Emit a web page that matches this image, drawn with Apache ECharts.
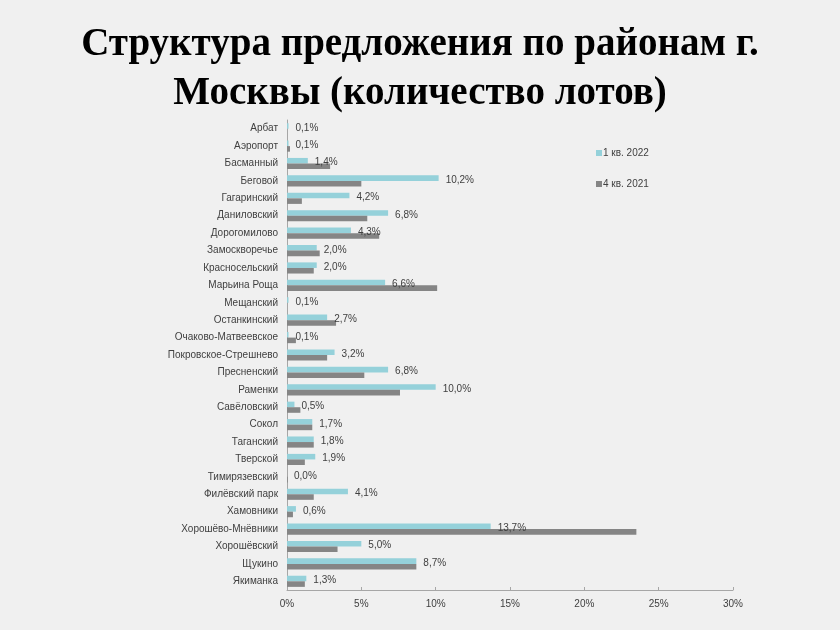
<!DOCTYPE html>
<html>
<head>
<meta charset="utf-8">
<script src="https://cdn.jsdelivr.net/npm/echarts@6/dist/echarts.min.js"></script>
<style>
  html, body { margin: 0; padding: 0; background: #f0f0f0; }
  #chart { width: 840px; height: 630px; }
</style>
</head>
<body>
<div id="chart"></div>
<script>
// районы, сверху вниз
const districts = [
  'Арбат', 'Аэропорт', 'Басманный', 'Беговой', 'Гагаринский', 'Даниловский',
  'Дорогомилово', 'Замоскворечье', 'Красносельский', 'Марьина Роща', 'Мещанский',
  'Останкинский', 'Очаково-Матвеевское', 'Покровское-Стрешнево', 'Пресненский',
  'Раменки', 'Савёловский', 'Сокол', 'Таганский', 'Тверской', 'Тимирязевский',
  'Филёвский парк', 'Хамовники', 'Хорошёво-Мнёвники', 'Хорошёвский', 'Щукино', 'Якиманка'
]

// доля лотов, %
const q1_2022 = [
  0.1, 0.1, 1.4, 10.2, 4.2, 6.8, 4.3, 2.0, 2.0, 6.6, 0.1, 2.7, 0.1, 3.2,
  6.8, 10.0, 0.5, 1.7, 1.8, 1.9, 0.0, 4.1, 0.6, 13.7, 5.0, 8.7, 1.3
]
const q4_2021 = [
  0.0, 0.2, 2.9, 5.0, 1.0, 5.4, 6.2, 2.2, 1.8, 10.1, 0.0, 3.3, 0.6, 2.7,
  5.2, 7.6, 0.9, 1.7, 1.8, 1.2, 0.05, 1.8, 0.4, 23.5, 3.4, 8.7, 1.2
]

const seriesNames = ['1 кв. 2022', '4 кв. 2021']
const xTicks = [0, 5, 10, 15, 20, 25, 30]

const chart = echarts.init(document.getElementById('chart'))

const fmtPct = (v) => v.toFixed(1).replace('.', ',') + '%'

chart.setOption({
  backgroundColor: '#f0f0f0',
  color: ['#95d1da', '#858585'],
  title: {
    text: 'Структура предложения по районам г.\nМосквы (количество лотов)',
    left: 'center',
    top: 15,
    textStyle: {
      fontFamily: 'Liberation Serif',
      fontWeight: 'bold',
      fontSize: 39,
      lineHeight: 49,
      color: '#000',
    },
  },
  legend: {
    orient: 'vertical',
    left: 591,
    top: 143,
    itemWidth: 6,
    itemHeight: 6,
    itemGap: 21,
    icon: 'rect',
    data: seriesNames,
    textStyle: { color: '#404040', fontSize: 10, fontFamily: 'Liberation Sans', padding: [0, 0, 0, -4] },
  },
  grid: { left: 287, right: 107, top: 120, bottom: 40, containLabel: false },
  xAxis: {
    type: 'value',
    min: 0,
    max: 30,
    interval: 5,
    axisLine: { show: true, lineStyle: { color: '#a6a6a6' } },
    axisTick: { show: true, inside: true, length: 3, lineStyle: { color: '#a6a6a6' } },
    splitLine: { show: false },
    axisLabel: {
      color: '#404040',
      fontSize: 10,
      fontFamily: 'Liberation Sans',
      margin: 9,
      formatter: (v) => (xTicks.includes(v) ? v + '%' : ''),
    },
  },
  yAxis: {
    type: 'category',
    inverse: true,
    data: districts,
    axisLine: { lineStyle: { color: '#a6a6a6' } },
    axisTick: { length: 4, lineStyle: { color: '#a6a6a6' } },
    axisLabel: { color: '#404040', fontSize: 10, fontFamily: 'Liberation Sans', margin: 9 },
  },
  series: [
    {
      name: seriesNames[0],
      type: 'bar',
      data: q1_2022,
      barGap: '0%',
      barCategoryGap: '36%',
      label: {
        show: true,
        position: 'right',
        distance: 7,
        offset: [0, 2],
        color: '#404040',
        fontSize: 10,
        fontFamily: 'Liberation Sans',
        formatter: (p) => fmtPct(p.value),
      },
    },
    {
      name: seriesNames[1],
      type: 'bar',
      data: q4_2021,
      barGap: '0%',
      barCategoryGap: '36%',
    },
  ],
})
</script>
</body>
</html>
